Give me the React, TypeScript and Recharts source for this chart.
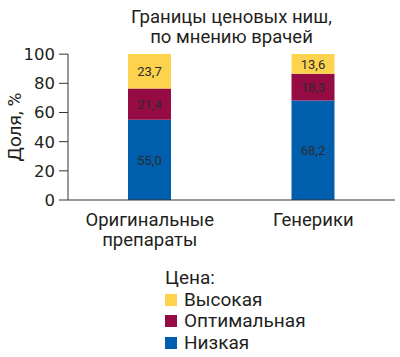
import { BarChart, Bar, XAxis, YAxis, LabelList } from "recharts"

const categories = ["Оригинальные препараты", "Генерики"]
const low = [55.0, 68.2]
const optimal = [21.4, 18.3]
const high = [23.7, 13.6]
const yTicks = [0, 20, 40, 60, 80, 100]

const seriesInfo = [
  { key: "high", name: "Высокая", color: "#FDD34D" },
  { key: "optimal", name: "Оптимальная", color: "#970B45" },
  { key: "low", name: "Низкая", color: "#005FAD" },
]

const data = categories.map((c, i) => ({
  name: c,
  pos: i + 0.5,
  low: low[i],
  optimal: optimal[i],
  high: high[i],
}))

const FONT = "Roboto, 'Noto Sans', sans-serif"
const INK = "#231f20"
const fmt = (v: any) => Number(v).toFixed(1).replace(".", ",")

function CatTick(props: any) {
  const { x, y, payload } = props
  const words = String(payload.value).split(" ")
  return (
    <text x={x} y={y} textAnchor="middle" fill={INK} fontSize={18.5} fontFamily={FONT}>
      {words.map((w, i) => (
        <tspan key={i} x={x} dy={i === 0 ? 18 : 20}>{w}</tspan>
      ))}
    </text>
  )
}

function YLabel(props: any) {
  const vb = props.viewBox || {}
  const cx = 21
  const cy = (vb.y ?? 54) + (vb.height ?? 146) / 2
  return (
    <text x={cx} y={cy} transform={`rotate(-90 ${cx} ${cy})`} textAnchor="middle" fill={INK} fontSize={19} fontFamily={FONT}>
      Доля, %
    </text>
  )
}

export default function App() {
  return (
    <div style={{ position: "absolute", left: 0, top: 0, width: 400, height: 357, background: "#fff" }}>
      <div
        style={{
          position: "absolute", left: 68, width: 327, top: 7, textAlign: "center",
          fontFamily: FONT, fontSize: 18.5, lineHeight: "20px", color: INK,
        }}
      >
        Границы ценовых ниш,<br />по мнению врачей
      </div>
      <BarChart width={400} height={357} data={data} margin={{ top: 54, right: 5, left: 0, bottom: 117 }}>
        <XAxis
          dataKey="name"
          xAxisId="cat"
          tick={<CatTick />}
          tickLine={false}
          axisLine={{ stroke: "#333" }}
          interval={0}
          height={40}
        />
        <XAxis
          xAxisId="sep"
          type="number"
          dataKey="pos"
          domain={[0, 2]}
          ticks={[0, 1, 2]}
          tick={false}
          tickSize={7}
          tickLine={{ stroke: "#333" }}
          axisLine={false}
          height={0}
        />
        <YAxis
          domain={[0, 100]}
          ticks={yTicks}
          interval={0}
          width={68}
          tickSize={9}
          tickMargin={4}
          tick={{ fill: INK, fontSize: 16.5, fontFamily: "'DejaVu Sans', sans-serif" }}
          tickLine={{ stroke: "#333" }}
          axisLine={{ stroke: "#333" }}
          label={<YLabel />}
        />
        {[...seriesInfo].reverse().map((s) => (
          <Bar key={s.key} dataKey={s.key} name={s.name} stackId="a" xAxisId="cat" fill={s.color} barSize={43} isAnimationActive={false}>
            <LabelList dataKey={s.key} position="center" formatter={fmt} fill="#2b2b2b" fontSize={13} fontFamily={FONT} />
          </Bar>
        ))}
      </BarChart>
      <div
        style={{
          position: "absolute", left: 165, top: 267, fontFamily: FONT, fontSize: 19,
          color: INK, lineHeight: "21.7px",
        }}
      >
        <div>Цена:</div>
        {seriesInfo.map((s) => (
          <div key={s.key} style={{ display: "flex", alignItems: "center" }}>
            <span style={{ width: 12, height: 12, background: s.color, marginRight: 7, display: "inline-block" }} />
            {s.name}
          </div>
        ))}
      </div>
    </div>
  )
}
